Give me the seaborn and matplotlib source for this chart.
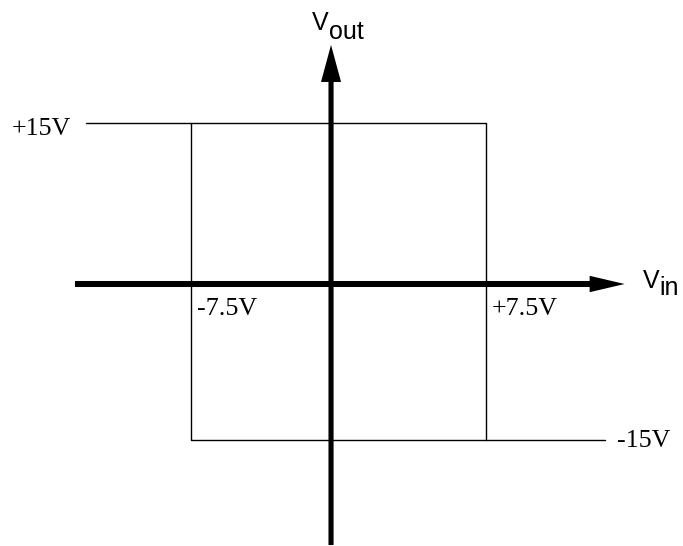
import matplotlib
matplotlib.use("Agg")
import matplotlib.pyplot as plt
import seaborn as sns
import pandas as pd

# ---- data (volts) ----
# hysteresis transfer curve of a Schmitt trigger, drawn as two polylines
seg_id = ["upper", "upper", "upper", "upper", "lower", "lower", "lower"]
vin_pts = [-12.84, 7.5, 7.5, 13.55, -7.5, -7.5, 7.5]
vout_pts = [15, 15, -15, -15, 15, -15, -15]

level_labels = ["+15V", "-15V"]
threshold_labels = ["-7.5V", "+7.5V"]

df = pd.DataFrame({"seg": seg_id, "vin": vin_pts, "vout": vout_pts})

sns.set_style("white")
fig = plt.figure(figsize=(6.83, 5.46), dpi=100)
ax = fig.add_axes([0, 0, 1, 1])
ax.set_xlim(-17.212, 17.517)
ax.set_ylim(-25.02, 26.60)
ax.axis("off")

sns.lineplot(data=df, x="vin", y="vout", units="seg", estimator=None,
             sort=False, color="black", lw=1.0, ax=ax, legend=False)

# axes arrows
ax.arrow(-13.40, -0.25, 14.55 + 13.40, 0, width=0.57, head_width=1.55,
         head_length=1.78, length_includes_head=True, color="black", lw=0)
ax.arrow(-0.38, -24.93, 0, 22.35 + 24.93, width=0.26, head_width=1.02,
         head_length=3.5, length_includes_head=True, color="black", lw=0)

serif = dict(family="Liberation Serif", fontsize=18.7, color="black", va="baseline", ha="left")
sans = dict(family="Liberation Sans", fontsize=18, color="black", va="baseline", ha="left")

ax.text(-16.60, 13.84, level_labels[0], **serif)
ax.text(14.16, -15.66, level_labels[1], **serif)
ax.text(-7.19, -3.18, threshold_labels[0], **serif)
ax.text(7.80, -3.18, threshold_labels[1], **serif)

ax.text(-1.35, 23.76, "V", **sans)
ax.text(-0.50, 22.91, "out", **sans)
ax.text(15.48, -0.63, "V", **sans)
ax.text(16.30, -1.29, "in", **sans)

fig.savefig("out.png", dpi=100)
